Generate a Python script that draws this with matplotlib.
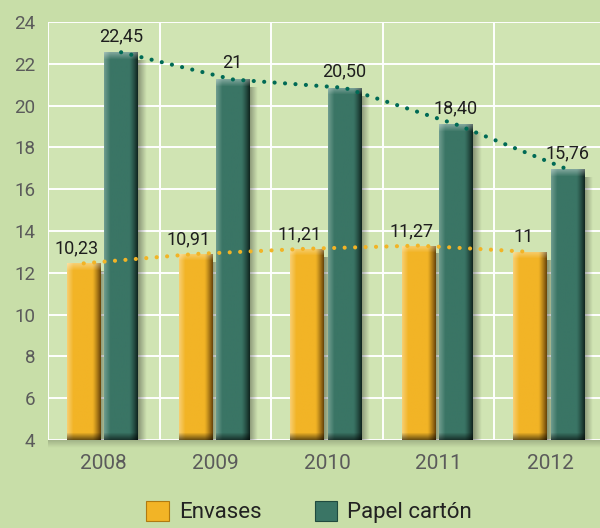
import numpy as np
import matplotlib.pyplot as plt
from matplotlib.colors import to_rgb
from matplotlib.patches import Patch

years = ['2008', '2009', '2010', '2011', '2012']
envases_labels = ['10,23', '10,91', '11,21', '11,27', '11']
papel_labels = ['22,45', '21', '20,50', '18,40', '15,76']
# bar heights as drawn in the reference (read against the y axis)
envases_heights = [12.45, 12.9, 13.15, 13.3, 13.0]
papel_heights = [22.55, 21.25, 20.85, 19.1, 16.95]
y_ticks = [4, 6, 8, 10, 12, 14, 16, 18, 20, 22, 24]
series_names = ['Envases', 'Papel cartón']

plt.rcParams['font.family'] = ['Roboto', 'DejaVu Sans']

ORANGE = '#f2b426'
GREEN = '#3a7565'


def shade_bar(ax, patch, base, light, dark):
    """Paint a 3D-ish gradient over a bar, clipped to it."""
    x0, y0 = patch.get_x(), patch.get_y()
    w, h = patch.get_width(), patch.get_height()
    (px0, py0), (px1, py1) = ax.transData.transform([(x0, y0), (x0 + w, y0 + h)])
    nx, ny = max(int(px1 - px0), 2), max(int(py1 - py0), 2)
    base, light, dark = (np.array(to_rgb(c)) for c in (base, light, dark))
    cols = []
    for t in np.linspace(0, 1, nx):
        if t < 0.18:
            c = light + (base - light) * (t / 0.18)
        elif t > 0.76:
            c = base + (dark - base) * ((t - 0.76) / 0.24) ** 1.2
        else:
            c = base
        cols.append(c)
    img = np.tile(np.array(cols), (ny, 1, 1))
    top, bottom = 7, 7
    for r in range(min(top, ny)):
        a = 1 - r / top
        img[r] = img[r] * (1 - 0.35 * a) + 0.35 * a
    for r in range(min(bottom, ny)):
        a = 1 - r / bottom
        img[ny - 1 - r] = img[ny - 1 - r] * (1 - 0.55 * a)
    im = ax.imshow(img, extent=(x0, x0 + w, y0, y0 + h), origin='upper',
                   aspect='auto', interpolation='bilinear', zorder=2.1)
    im.set_clip_path(patch)
    # soft drop shadow to the right
    sh = np.zeros((2, 20, 4))
    sh[..., 3] = np.linspace(0.35, 0, 20)
    ax.imshow(sh, extent=(x0 + w, x0 + w + 0.08, y0, y0 + h - 0.4), origin='upper',
              aspect='auto', interpolation='bilinear', zorder=1.5)


fig = plt.figure(figsize=(6, 5.28), dpi=100, facecolor='#c8dea8')
ax = fig.add_axes([0.08, 0.1667, 0.93, 0.7917])
ax.set_facecolor('#d0e4b3')
ax.set_xlim(0, 5)
ax.set_ylim(4, 24)

x = np.arange(len(years))
x_env = x + 0.32
x_pap = x + 0.655
width = 0.3

bars_env = ax.bar(x_env, [h - 4 for h in envases_heights], width, bottom=4, color=ORANGE, zorder=2)
bars_pap = ax.bar(x_pap, [h - 4 for h in papel_heights], width, bottom=4, color=GREEN, zorder=2)

for p in bars_env:
    shade_bar(ax, p, ORANGE, '#f7cd6e', '#6e480a')
for p in bars_pap:
    shade_bar(ax, p, GREEN, '#6c9a8c', '#122822')

# shadow under the plot area
band = np.zeros((20, 2, 4))
band[..., 3] = np.linspace(0.22, 0, 20)[:, None]
ax.imshow(band, extent=(0, 5, 3.6, 4), origin='upper', aspect='auto',
          interpolation='bilinear', zorder=0.4, clip_on=False)

# dotted trend lines
ax.plot(x_env, envases_heights, color=ORANGE, lw=3, linestyle=(0, (0.01, 2.5)),
        dash_capstyle='round', zorder=4)
ax.plot(x_pap, papel_heights, color='#006a55', lw=3, linestyle=(0, (0.01, 2.5)),
        dash_capstyle='round', zorder=4)

for xi, h, lab in zip(x_env, envases_heights, envases_labels):
    ax.annotate(lab, (xi, h), xytext=(-5, 4), textcoords='offset points',
                ha='center', va='bottom', fontsize=13, color='#1e1e1e', zorder=5)
for xi, h, lab in zip(x_pap, papel_heights, papel_labels):
    ax.annotate(lab, (xi, h), xytext=(0, 5), textcoords='offset points',
                ha='center', va='bottom', fontsize=13, color='#1e1e1e', zorder=5)

ax.set_xlim(0, 5)
ax.set_ylim(4, 24)
ax.set_yticks(y_ticks)
ax.set_xticks(x + 0.5)
ax.set_xticklabels(years)
ax.set_xticks(np.arange(len(years) + 1), minor=True)
ax.set_axisbelow(True)
ax.grid(axis='y', which='major', color='white', lw=1.4)
ax.grid(axis='x', which='minor', color='white', lw=1.4)
ax.tick_params(axis='both', which='both', length=0)
ax.tick_params(axis='y', labelsize=13.5, labelcolor='#5b5b5b', pad=9)
ax.tick_params(axis='x', labelsize=15, labelcolor='#5b5b5b', pad=10)
for s in ax.spines.values():
    s.set_visible(False)

handles = [Patch(facecolor=ORANGE, edgecolor='#b07a10', lw=0.8),
           Patch(facecolor=GREEN, edgecolor='#1f4a3e', lw=0.8)]
fig.legend(handles, series_names, loc='center', bbox_to_anchor=(0.515, 0.03),
           ncol=2, frameon=False, fontsize=16, labelcolor='#222222',
           handlelength=1.0, handleheight=1.0, handletextpad=0.45,
           columnspacing=2.4)

fig.savefig('out.png', dpi=100, facecolor=fig.get_facecolor())
